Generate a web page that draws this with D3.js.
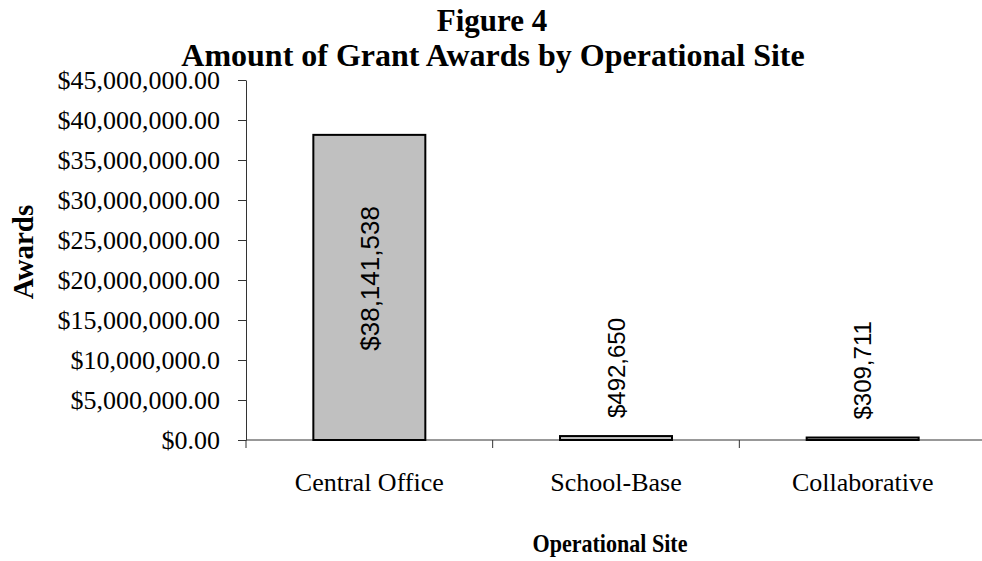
<!DOCTYPE html>
<html lang="en">
<head>
    <script src="https://cdn.jsdelivr.net/npm/d3@7"></script>
    <style>
        body { margin: 0; background: #fff; }
        text { fill: #000; }
    </style>
</head>
<body>

<script>
    var w = 982;
    var h = 561;

    var sites = ['Central Office', 'School-Base', 'Collaborative'];
    var awards = [38141538, 492650, 309711];
    var awardLabels = ['$38,141,538', '$492,650', '$309,711'];
    var yTicks = [0, 5e6, 10e6, 15e6, 20e6, 25e6, 30e6, 35e6, 40e6, 45e6];
    var yTickLabels = ['$0.00', '$5,000,000.00', '$10,000,000.0', '$15,000,000.00', '$20,000,000.00',
        '$25,000,000.00', '$30,000,000.00', '$35,000,000.00', '$40,000,000.00', '$45,000,000.00'];

    var serif = '"Liberation Serif", "Times New Roman", serif';
    var sans = '"Liberation Sans", Arial, sans-serif';

    var svg = d3.select('body').append('svg')
        .attr('width', w)
        .attr('height', h);

    var x = d3.scaleBand()
        .domain(sites)
        .range([246, 986])
        .paddingInner(0.546)
        .paddingOuter(0.273);

    var y = d3.scaleLinear()
        .domain([0, 45e6])
        .range([440, 80]);

    // y axis
    var yAxis = d3.axisLeft(y)
        .tickValues(yTicks)
        .tickFormat(function(d, i) { return yTickLabels[i]; })
        .tickSize(8)
        .tickSizeOuter(0)
        .tickPadding(18);

    var gy = svg.append('g')
        .attr('transform', 'translate(246,0)')
        .call(yAxis);
    gy.select('.domain').attr('stroke', '#333');
    gy.selectAll('.tick line').attr('stroke', '#333');
    gy.selectAll('.tick text')
        .attr('font-family', serif)
        .attr('font-size', '26px')
        .attr('fill', '#000');

    // x axis line + ticks at category boundaries
    svg.append('line')
        .attr('x1', 246).attr('x2', w)
        .attr('y1', y(0)).attr('y2', y(0))
        .attr('stroke', '#333');

    var bounds = d3.range(sites.length + 1).map(function(i) { return x.range()[0] + i * x.step(); });
    svg.selectAll('.xtick')
        .data(bounds)
        .enter()
        .append('line')
        .attr('class', 'xtick')
        .attr('x1', function(d) { return d; })
        .attr('x2', function(d) { return d; })
        .attr('y1', y(0))
        .attr('y2', y(0) + 8)
        .attr('stroke', '#333');

    svg.selectAll('.xlabel')
        .data(sites)
        .enter()
        .append('text')
        .attr('class', 'xlabel')
        .attr('x', function(d) { return x(d) + x.bandwidth() / 2; })
        .attr('y', 491)
        .attr('text-anchor', 'middle')
        .attr('font-family', serif)
        .attr('font-size', '26px')
        .text(function(d) { return d; });

    // bars
    svg.selectAll('.bar')
        .data(awards)
        .enter()
        .append('rect')
        .attr('class', 'bar')
        .attr('x', function(d, i) { return x(sites[i]); })
        .attr('width', x.bandwidth())
        .attr('y', function(d) { return y(d); })
        .attr('height', function(d) { return y(0) - y(d); })
        .attr('fill', '#c0c0c0')
        .attr('stroke', '#000')
        .attr('stroke-width', 2);

    // value labels, rotated; inside the bar when it fits, else above it
    svg.selectAll('.val')
        .data(awards)
        .enter()
        .append('text')
        .attr('class', 'val')
        .attr('font-family', sans)
        .attr('font-size', function(d) { return (y(0) - y(d)) > 200 ? '26px' : '24px'; })
        .attr('dy', '0.36em')
        .attr('text-anchor', function(d) { return (y(0) - y(d)) > 200 ? 'middle' : 'start'; })
        .attr('transform', function(d, i) {
            var cx = x(sites[i]) + x.bandwidth() / 2;
            var cy = (y(0) - y(d)) > 200 ? (y(d) + y(0)) / 2 - 9 : y(d) - 18;
            return 'translate(' + cx + ',' + cy + ') rotate(-90)';
        })
        .text(function(d, i) { return awardLabels[i]; });

    // titles
    svg.append('text')
        .attr('x', 492).attr('y', 31)
        .attr('text-anchor', 'middle')
        .attr('font-family', serif)
        .attr('font-weight', 'bold')
        .attr('font-size', '31px')
        .text('Figure 4');

    svg.append('text')
        .attr('x', 493).attr('y', 66)
        .attr('text-anchor', 'middle')
        .attr('font-family', serif)
        .attr('font-weight', 'bold')
        .attr('font-size', '32px')
        .text('Amount of Grant Awards by Operational Site');

    svg.append('text')
        .attr('transform', 'translate(33,252) rotate(-90)')
        .attr('text-anchor', 'middle')
        .attr('font-family', serif)
        .attr('font-weight', 'bold')
        .attr('font-size', '29px')
        .text('Awards');

    svg.append('text')
        .attr('x', 610).attr('y', 552)
        .attr('text-anchor', 'middle')
        .attr('font-family', serif)
        .attr('font-weight', 'bold')
        .attr('font-size', '26px')
        .attr('textLength', 155)
        .attr('lengthAdjust', 'spacingAndGlyphs')
        .text('Operational Site');
</script>
</body>
</html>
